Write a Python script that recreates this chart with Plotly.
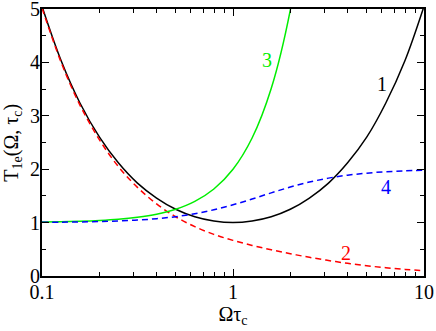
import math
import plotly.graph_objects as go

# Omega*tau_c sample points
x_vals = [0.1, 0.126, 0.158, 0.2, 0.251, 0.316, 0.398, 0.501, 0.631, 0.794, 1.0,
          1.259, 1.585, 1.995, 2.512, 3.162, 3.981, 5.012, 6.310, 7.943, 10.0]

# curve 1 (black, solid)
curve1 = [5.05, 4.03, 3.24, 2.60, 2.12, 1.74, 1.46, 1.25, 1.11, 1.03, 1.00,
          1.03, 1.11, 1.25, 1.46, 1.74, 2.12, 2.60, 3.24, 4.03, 5.05]
# curve 2 (red, dashed)
curve2 = [5.02, 4.00, 3.20, 2.55, 2.05, 1.66, 1.35, 1.11, 0.924, 0.780, 0.667,
          0.573, 0.491, 0.417, 0.350, 0.290, 0.237, 0.192, 0.155, 0.124, 0.099]
# curve 3 (green, solid) - leaves the frame near 2
x3_vals = [0.1, 0.126, 0.158, 0.2, 0.251, 0.316, 0.398, 0.501, 0.631, 0.794, 1.0,
           1.259, 1.585, 1.995, 2.512]
curve3 = [1.01, 1.016, 1.025, 1.04, 1.063, 1.10, 1.158, 1.251, 1.398, 1.630, 2.0,
          2.585, 3.512, 4.98, 7.31]
# curve 4 (blue, dashed)
curve4 = [1.005, 1.008, 1.012, 1.020, 1.031, 1.048, 1.073, 1.111, 1.166, 1.240, 1.333,
          1.442, 1.557, 1.666, 1.759, 1.833, 1.888, 1.926, 1.952, 1.969, 1.980]

labels = ["1", "2", "3", "4"]
label_x = [6.03, 3.91, 1.50, 6.32]
label_y = [3.6, 0.43, 4.04, 1.67]
colors = ["black", "red", "#00ee00", "blue"]

x_ticks = [0.1, 1, 10]
x_ticklabels = ["0.1", "1", "10"]
x_minor = [0.2, 0.3, 0.4, 0.5, 0.6, 0.7, 0.8, 0.9, 2, 3, 4, 5, 6, 7, 8, 9]
y_ticks = [0, 1, 2, 3, 4, 5]

FONT = "Liberation Serif, Times New Roman, serif"
FS = 20

fig = go.Figure()
fig.add_trace(go.Scatter(x=x_vals, y=curve1, mode="lines", line=dict(color=colors[0], width=1.5, shape="spline")))
fig.add_trace(go.Scatter(x=x_vals, y=curve2, mode="lines", line=dict(color=colors[1], width=1.5, dash="6px,4px", shape="spline")))
fig.add_trace(go.Scatter(x=x3_vals, y=curve3, mode="lines", line=dict(color=colors[2], width=1.5, shape="spline")))
fig.add_trace(go.Scatter(x=x_vals, y=curve4, mode="lines", line=dict(color=colors[3], width=1.5, dash="6px,4px", shape="spline")))

for t, lx, ly, c in zip(labels, label_x, label_y, colors):
    fig.add_annotation(x=math.log10(lx), y=ly, xref="x", yref="y", text=t, showarrow=False,
                       font=dict(family=FONT, size=FS, color=c))

# y-axis title as a rotated annotation
fig.add_annotation(x=-0.078, y=0.5, xref="paper", yref="paper", text="T<sub>1e</sub>(Ω, τ<sub>c</sub>)",
                   textangle=-90, showarrow=False, xanchor="center", yanchor="middle",
                   font=dict(family=FONT, size=FS, color="black"))

axis_common = dict(showgrid=False, zeroline=False, showline=True, linecolor="black", linewidth=2,
                   mirror="allticks", ticks="inside", ticklen=7, tickwidth=1.3, tickcolor="black",
                   automargin=False, ticklabeloverflow="allow",
                   tickfont=dict(family=FONT, size=FS, color="black"))

fig.update_xaxes(type="log", range=[-1, 1], tickvals=x_ticks, ticktext=x_ticklabels,
                 ticklabelstandoff=-3,
                 minor=dict(ticks="inside", ticklen=4, tickwidth=1.3, tickcolor="black", showgrid=False,
                            tickmode="array", tickvals=x_minor),
                 title=dict(text="Ωτ<sub>c</sub>", font=dict(family=FONT, size=FS, color="black"), standoff=2),
                 **axis_common)
fig.update_yaxes(range=[0, 5], tickvals=y_ticks, ticklabelstandoff=-4,
                 minor=dict(ticks="inside", ticklen=4, tickwidth=1.3, tickcolor="black", dtick=0.5, showgrid=False),
                 **axis_common)

fig.update_layout(width=436, height=331, margin=dict(l=42, r=12, t=9, b=55),
                  paper_bgcolor="white", plot_bgcolor="white", showlegend=False)

fig.write_html("out.html", config={"displayModeBar": False},
               post_script="document.body.style.margin='0';document.body.style.overflow='hidden';")
